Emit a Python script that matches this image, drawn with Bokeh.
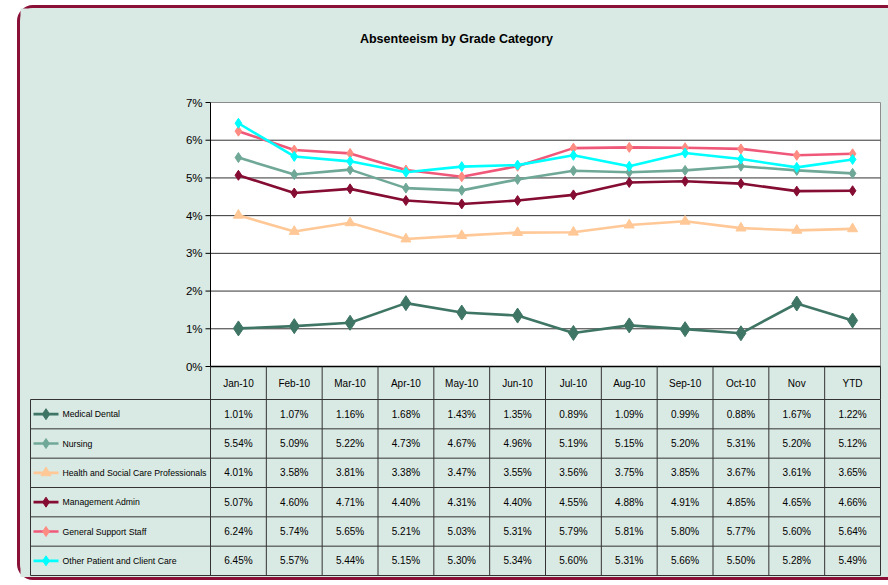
from bokeh.plotting import figure
from bokeh.models import Range1d, ColumnDataSource
from bokeh.layouts import column
from bokeh.embed import file_html
from bokeh.resources import INLINE
from bokeh.core.properties import value

# ---------------- data ----------------
months = ["Jan-10", "Feb-10", "Mar-10", "Apr-10", "May-10", "Jun-10",
          "Jul-10", "Aug-10", "Sep-10", "Oct-10", "Nov", "YTD"]
series_names = ["Medical Dental", "Nursing", "Health and Social Care Professionals",
                "Management Admin", "General Support Staff", "Other Patient and Client Care"]
medical_dental = [1.01, 1.07, 1.16, 1.68, 1.43, 1.35, 0.89, 1.09, 0.99, 0.88, 1.67, 1.22]
nursing = [5.54, 5.09, 5.22, 4.73, 4.67, 4.96, 5.19, 5.15, 5.20, 5.31, 5.20, 5.12]
health_social = [4.01, 3.58, 3.81, 3.38, 3.47, 3.55, 3.56, 3.75, 3.85, 3.67, 3.61, 3.65]
management_admin = [5.07, 4.60, 4.71, 4.40, 4.31, 4.40, 4.55, 4.88, 4.91, 4.85, 4.65, 4.66]
general_support = [6.24, 5.74, 5.65, 5.21, 5.03, 5.31, 5.79, 5.81, 5.80, 5.77, 5.60, 5.64]
other_patient = [6.45, 5.57, 5.44, 5.15, 5.30, 5.34, 5.60, 5.31, 5.66, 5.50, 5.28, 5.49]
y_ticks = [0, 1, 2, 3, 4, 5, 6, 7]
y_tick_labels = ["0%", "1%", "2%", "3%", "4%", "5%", "6%", "7%"]
title_text = "Absenteeism by Grade Category"

all_series = [medical_dental, nursing, health_social, management_admin, general_support, other_patient]

# ---------------- styles ----------------
BG = "#d9e9e3"
BORDER = "#8a1038"
GRID = "#333333"
FONT = "Liberation Sans"
styles = [
    dict(line="#3f7564", fill="#3f7564", marker="diamond", size=15, key=11),
    dict(line="#70a898", fill="#70a898", marker="diamond", size=10, key=10),
    dict(line="#ffc896", fill="#ffc896", marker="triangle", size=10, key=10),
    dict(line="#850c32", fill="#850c32", marker="diamond", size=10, key=10),
    dict(line="#f0587a", fill="#ff8c82", marker="diamond", size=10, key=10),
    dict(line="#00ffff", fill="#00ffff", marker="diamond", size=10, key=10),
]

# ---------------- geometry (pixels) ----------------
W, H = 868, 569            # canvas
n = len(months)
ymax = max(y_ticks)
PX = 670.0 / n             # px per category
YPX = 264.0 / ymax         # px per percent
LEFT = 190.0               # canvas px left of the plot area
TOP = 94.0                 # canvas px above the plot area
HDR = 33.0                 # header row height, px
nrows = len(series_names)
RPX = 176.0 / nrows        # px per table row
LW = 180.0 / PX            # label column width (category units)

x_start = -LEFT / PX
x_end = (W - LEFT) / PX
y_top = ymax + TOP / YPX
y_bot = y_top - H / YPX
# table range: row boundaries 0..nrows, top of table directly under header row
t_top_px = TOP + ymax * YPX + HDR
t_top = nrows + t_top_px / RPX
t_bot = t_top - H / RPX

p = figure(width=W, height=H, x_range=Range1d(x_start, x_end), y_range=Range1d(y_bot, y_top),
           output_backend="svg", toolbar_location=None,
           x_axis_location=None, y_axis_location=None,
           min_border=0, min_border_left=0, min_border_right=0, min_border_top=0, min_border_bottom=0,
           background_fill_color=BG, border_fill_color=BG, outline_line_color=None)
p.xgrid.visible = False
p.ygrid.visible = False
p.extra_y_ranges = {"table": Range1d(t_bot, t_top)}

xc = [i + 0.5 for i in range(n)]

# title
p.text(x=[(x_start + x_end) / 2 + 2 / PX], y=[y_top - 30 / YPX], text=[title_text],
       text_align="center", text_baseline="middle", text_font=value(FONT),
       text_font_size="12.5px", text_font_style="bold", text_color="black")

# plot area
p.quad(left=[0], right=[n], bottom=[0], top=[ymax], fill_color="white", line_color="#8c8c8c", line_width=1)
gy = y_ticks[1:-1]
p.segment(x0=[0] * len(gy), x1=[n] * len(gy), y0=gy, y1=gy, line_color=GRID, line_width=1)

# y axis
TK = 5.0 / PX
p.segment(x0=[0], x1=[0], y0=[0], y1=[ymax], line_color="black", line_width=1)
p.segment(x0=[-TK] * len(y_ticks), x1=[0] * len(y_ticks), y0=y_ticks, y1=y_ticks,
          line_color="black", line_width=1)
p.text(x=[-TK] * len(y_ticks), y=y_ticks, text=y_tick_labels, x_offset=-3,
       text_align="right", text_baseline="middle", text_font=value(FONT),
       text_font_size="11.5px", text_color="black")

# series
for vals, st in zip(all_series, styles):
    src = ColumnDataSource(dict(x=xc, y=vals))
    p.line("x", "y", source=src, line_color=st["line"], line_width=2.6)
    p.scatter("x", "y", source=src, marker=st["marker"], size=st["size"],
              fill_color=st["fill"], line_color=st["fill"])

# x axis line + header row
p.segment(x0=[0], x1=[n], y0=[0], y1=[0], line_color="black", line_width=1.5)
hb = nrows                     # header bottom (table units)
ht = nrows + HDR / RPX         # header top (table units)
edges = list(range(n + 1))
p.segment(x0=edges, x1=edges, y0=[hb] * len(edges), y1=[ht] * len(edges),
          line_color=GRID, line_width=1, y_range_name="table")
p.text(x=xc, y=[(hb + ht) / 2] * n, text=months, text_align="center", text_baseline="middle",
       text_font=value(FONT), text_font_size="10px", text_color="black", y_range_name="table")

# ---------------- data table ----------------
h_y = list(range(nrows + 1))
p.segment(x0=[-LW] * len(h_y), x1=[n] * len(h_y), y0=h_y, y1=h_y, line_color=GRID, line_width=1,
          y_range_name="table")
v_x = [-LW] + edges
p.segment(x0=v_x, x1=v_x, y0=[0] * len(v_x), y1=[nrows] * len(v_x), line_color=GRID, line_width=1,
          y_range_name="table")

vx, vy, vt = [], [], []
for r, vals in enumerate(all_series):
    for c, v in enumerate(vals):
        vx.append(xc[c])
        vy.append(nrows - r - 0.5)
        vt.append(f"{v:.2f}%")
p.text(x=vx, y=vy, text=vt, text_align="center", text_baseline="middle",
       text_font=value(FONT), text_font_size="10px", text_color="black", y_range_name="table")

row_y = [nrows - r - 0.5 for r in range(nrows)]
key_x0 = -LW + 3.0 / PX
key_x1 = -LW + 28.0 / PX
key_xc = (key_x0 + key_x1) / 2
for r, st in enumerate(styles):
    p.segment(x0=[key_x0], x1=[key_x1], y0=[row_y[r]], y1=[row_y[r]], line_color=st["line"],
              line_width=2.6, y_range_name="table")
    p.scatter(x=[key_xc], y=[row_y[r]], marker=st["marker"], size=st["key"],
              fill_color=st["fill"], line_color=st["fill"], y_range_name="table")
p.text(x=[-LW + 32.0 / PX] * nrows, y=row_y, text=series_names, text_align="left",
       text_baseline="middle", text_font=value(FONT), text_font_size="8.7px", text_color="black",
       y_range_name="table")

layout = column(p, styles={"background-color": BG, "border-left": f"3px solid {BORDER}",
                           "border-top": f"3px solid {BORDER}", "border-bottom": f"3px solid {BORDER}",
                           "border-radius": "16px 0 0 16px", "margin-left": "17px", "margin-top": "5px"})

open("out.html", "w").write(file_html(layout, INLINE))
